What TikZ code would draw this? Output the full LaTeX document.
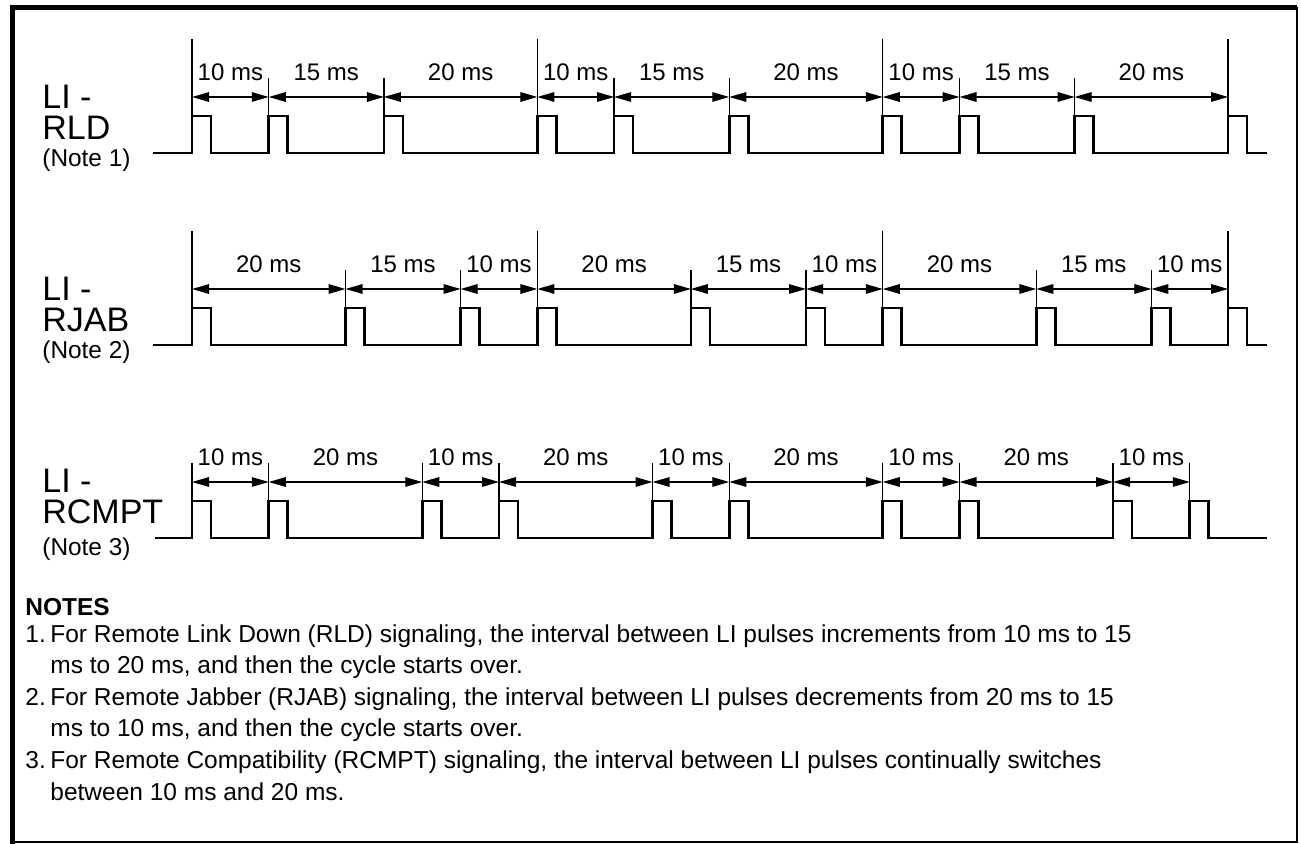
\documentclass[tikz,border=0pt]{standalone}
\usepackage{fontspec}
\setmainfont{Liberation Sans}
\usetikzlibrary{arrows.meta}

\begin{document}
\begin{tikzpicture}[
                x=0.5pt, y=-0.5pt,
                wave/.style={line width=1.3pt},
                dim/.style={
                    {Triangle[length=8.5pt,width=4.8pt]}-{Triangle[length=8.5pt,width=4.8pt]},
                    line width=0.55pt
                },
                tickline/.style={line width=0.7pt},
                mslabel/.style={font=\fontsize{12}{14}\selectfont, inner sep=0pt},
                signame/.style={font=\fontsize{17}{15.5}\selectfont, align=left, anchor=south west, inner sep=0pt},
                notelabel/.style={font=\fontsize{12.2}{14}\selectfont, anchor=base west, inner sep=0pt},
                notetext/.style={font=\fontsize{12.25}{15}\selectfont, anchor=base west, inner sep=0pt}
            ]
            \useasboundingbox (0,0) rectangle (1301,844);

            % frame
            \draw[line width=2.5pt] (1297,8) -- (12,8) -- (12,844);
            \draw[line width=1.2pt] (1297,7) -- (1297,842) -- (12,842);

            % LI - RLD
            \node[signame] (rld) at (42,140) {LI -\\RLD};
            \node[notelabel] (note1) at (42,167) {(Note 1)};
            \foreach \tm [count=\i] in {0,10,25,45,55,70,90,100,115,135}
                \coordinate (a\i) at (192+7.675*\tm,97);
            \draw[wave] (153,153) \foreach \tm in {0,10,25,45,55,70,90,100,115,135} {
                -- (192+7.675*\tm,153) -- ++(0,-37) -- ++(19,0) -- ++(0,37)} -- (1267,153);
            \foreach \i in {1,4,7,10} \draw[tickline] (a\i) ++(0,19) -- ++(0,-77);
            \foreach \i in {2,3,5,6,8,9} \draw[tickline] (a\i) ++(0,19) -- ++(0,-38);
            \foreach \i/\j/\lab in {1/2/10,2/3/15,3/4/20,4/5/10,5/6/15,6/7/20,7/8/10,8/9/15,9/10/20}
                \draw[dim] (a\i) -- (a\j) node[midway, mslabel, yshift=12.5pt] (ams\i) {\lab\ ms};

            % LI - RJAB
            \node[signame] (rjab) at (42,332) {LI -\\RJAB};
            \node[notelabel] (note2) at (42,359) {(Note 2)};
            \foreach \tm [count=\i] in {0,20,35,45,65,80,90,110,125,135}
                \coordinate (b\i) at (192+7.675*\tm,289);
            \draw[wave] (153,345) \foreach \tm in {0,20,35,45,65,80,90,110,125,135} {
                -- (192+7.675*\tm,345) -- ++(0,-37) -- ++(19,0) -- ++(0,37)} -- (1267,345);
            \foreach \i in {1,4,7,10} \draw[tickline] (b\i) ++(0,19) -- ++(0,-77);
            \foreach \i in {2,3,5,6,8,9} \draw[tickline] (b\i) ++(0,19) -- ++(0,-38);
            \foreach \i/\j/\lab in {1/2/20,2/3/15,3/4/10,4/5/20,5/6/15,6/7/10,7/8/20,8/9/15,9/10/10}
                \draw[dim] (b\i) -- (b\j) node[midway, mslabel, yshift=12.5pt] (bms\i) {\lab\ ms};

            % LI - RCMPT
            \node[signame] (rcmpt) at (42,524) {LI -\\RCMPT};
            \node[notelabel] (note3) at (42,555) {(Note 3)};
            \foreach \tm [count=\i] in {0,10,30,40,60,70,90,100,120,130}
                \coordinate (c\i) at (192+7.675*\tm,482);
            \draw[wave] (155,538) \foreach \tm in {0,10,30,40,60,70,90,100,120,130} {
                -- (192+7.675*\tm,538) -- ++(0,-37) -- ++(19,0) -- ++(0,37)} -- (1267,538);
            \foreach \i in {1,...,10} \draw[tickline] (c\i) ++(0,19) -- ++(0,-38);
            \foreach \i/\j/\lab in {1/2/10,2/3/20,3/4/10,4/5/20,5/6/10,6/7/20,7/8/10,8/9/20,9/10/10}
                \draw[dim] (c\i) -- (c\j) node[midway, mslabel, yshift=12.5pt] (cms\i) {\lab\ ms};

            % notes
            \node[notetext, font=\fontsize{12.25}{15}\selectfont\bfseries] (notes) at (25,615) {NOTES};
            \node[notetext] (n1) at (25,642) {1.};
            \node[notetext] (n1a) at (50,642) {For Remote Link Down (RLD) signaling, the interval between LI pulses increments from 10 ms to 15};
            \node[notetext] (n1b) at (50,673.6) {ms to 20 ms, and then the cycle starts over.};
            \node[notetext] (n2) at (25,705.2) {2.};
            \node[notetext] (n2a) at (50,705.2) {For Remote Jabber (RJAB) signaling, the interval between LI pulses decrements from 20 ms to 15};
            \node[notetext] (n2b) at (50,736.8) {ms to 10 ms, and then the cycle starts over.};
            \node[notetext] (n3) at (25,768.4) {3.};
            \node[notetext] (n3a) at (50,768.4) {For Remote Compatibility (RCMPT) signaling, the interval between LI pulses continually switches};
            \node[notetext] (n3b) at (50,800) {between 10 ms and 20 ms.};
            \end{tikzpicture}
\end{document}
